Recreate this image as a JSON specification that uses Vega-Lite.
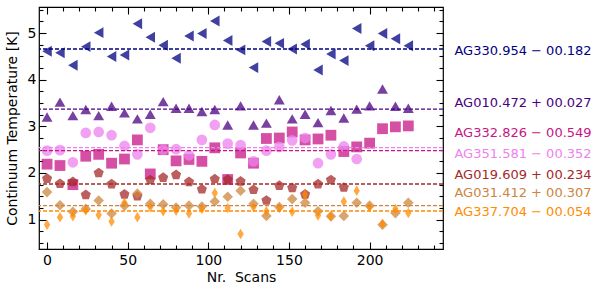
{
"$schema": "https://vega.github.io/schema/vega-lite/v6.json",
"width": 404, "height": 242,
"autosize": {"type": "none"},
"padding": {"left": 39, "top": 7, "right": 157, "bottom": 44},
"config": {"view": {"stroke": "#000000", "strokeWidth": 1.2}, "font": "DejaVu Sans",
  "axis": {"labelFont": "DejaVu Sans", "titleFont": "DejaVu Sans", "labelColor": "#000", "titleColor": "#000", "titleFontWeight": "normal", "domain": false, "tickColor": "#000000", "tickWidth": 1.1, "grid": false, "labelOverlap": false, "labelFlush": false, "labelBound": false}},
"datasets": {
"pts": [
{"k":1,"x":0,"t":4.61},{"k":1,"x":8,"t":4.58},{"k":1,"x":16,"t":4.31},{"k":1,"x":24,"t":4.71},{"k":1,"x":32,"t":5.01},{"k":1,"x":40,"t":4.50},{"k":1,"x":48,"t":4.53},{"k":1,"x":56,"t":5.20},{"k":1,"x":64,"t":4.91},{"k":1,"x":72,"t":4.74},{"k":1,"x":80,"t":4.46},{"k":1,"x":88,"t":4.94},{"k":1,"x":96,"t":4.99},{"k":1,"x":104,"t":5.26},{"k":1,"x":112,"t":4.84},{"k":1,"x":120,"t":4.64},{"k":1,"x":128,"t":4.26},{"k":1,"x":136,"t":4.82},{"k":1,"x":144,"t":4.78},{"k":1,"x":152,"t":4.66},{"k":1,"x":160,"t":4.76},{"k":1,"x":168,"t":4.21},{"k":1,"x":176,"t":4.55},{"k":1,"x":184,"t":4.41},{"k":1,"x":192,"t":5.10},{"k":1,"x":200,"t":4.73},{"k":1,"x":208,"t":4.99},{"k":1,"x":216,"t":4.88},{"k":1,"x":224,"t":4.73},
{"k":2,"x":0,"t":3.20},{"k":2,"x":8,"t":3.52},{"k":2,"x":16,"t":3.23},{"k":2,"x":24,"t":3.36},{"k":2,"x":32,"t":3.23},{"k":2,"x":40,"t":3.43},{"k":2,"x":48,"t":3.29},{"k":2,"x":56,"t":3.16},{"k":2,"x":64,"t":3.26},{"k":2,"x":72,"t":3.53},{"k":2,"x":80,"t":3.39},{"k":2,"x":88,"t":3.39},{"k":2,"x":96,"t":3.32},{"k":2,"x":104,"t":3.36},{"k":2,"x":112,"t":3.03},{"k":2,"x":120,"t":3.44},{"k":2,"x":128,"t":3.03},{"k":2,"x":136,"t":3.07},{"k":2,"x":144,"t":3.57},{"k":2,"x":152,"t":3.16},{"k":2,"x":160,"t":3.26},{"k":2,"x":168,"t":3.08},{"k":2,"x":176,"t":3.34},{"k":2,"x":184,"t":3.18},{"k":2,"x":192,"t":3.37},{"k":2,"x":200,"t":3.44},{"k":2,"x":208,"t":3.80},{"k":2,"x":216,"t":3.43},{"k":2,"x":224,"t":3.39},
{"k":3,"x":0,"t":2.19},{"k":3,"x":8,"t":2.16},{"k":3,"x":16,"t":1.75},{"k":3,"x":24,"t":2.36},{"k":3,"x":32,"t":2.40},{"k":3,"x":40,"t":2.21},{"k":3,"x":48,"t":2.30},{"k":3,"x":56,"t":2.71},{"k":3,"x":64,"t":1.98},{"k":3,"x":72,"t":2.50},{"k":3,"x":80,"t":2.26},{"k":3,"x":88,"t":2.29},{"k":3,"x":96,"t":2.25},{"k":3,"x":104,"t":2.54},{"k":3,"x":112,"t":1.86},{"k":3,"x":120,"t":2.43},{"k":3,"x":128,"t":2.21},{"k":3,"x":136,"t":2.74},{"k":3,"x":144,"t":2.75},{"k":3,"x":152,"t":2.88},{"k":3,"x":160,"t":2.71},{"k":3,"x":168,"t":2.73},{"k":3,"x":176,"t":2.81},{"k":3,"x":184,"t":2.46},{"k":3,"x":192,"t":2.56},{"k":3,"x":200,"t":2.64},{"k":3,"x":208,"t":2.95},{"k":3,"x":216,"t":2.99},{"k":3,"x":224,"t":3.01},
{"k":4,"x":0,"t":2.48},{"k":4,"x":8,"t":2.49},{"k":4,"x":16,"t":2.23},{"k":4,"x":24,"t":2.86},{"k":4,"x":32,"t":2.88},{"k":4,"x":40,"t":2.81},{"k":4,"x":48,"t":2.58},{"k":4,"x":56,"t":2.40},{"k":4,"x":64,"t":2.97},{"k":4,"x":72,"t":2.50},{"k":4,"x":80,"t":2.51},{"k":4,"x":88,"t":2.38},{"k":4,"x":96,"t":2.71},{"k":4,"x":104,"t":3.03},{"k":4,"x":112,"t":2.63},{"k":4,"x":120,"t":2.60},{"k":4,"x":128,"t":2.25},{"k":4,"x":136,"t":2.48},{"k":4,"x":144,"t":2.56},{"k":4,"x":152,"t":2.70},{"k":4,"x":160,"t":2.75},{"k":4,"x":168,"t":2.21},{"k":4,"x":176,"t":2.40},{"k":4,"x":184,"t":2.57},{"k":4,"x":192,"t":2.30},
{"k":5,"x":0,"t":1.88},{"k":5,"x":8,"t":1.77},{"k":5,"x":16,"t":1.81},{"k":5,"x":24,"t":1.53},{"k":5,"x":32,"t":2.00},{"k":5,"x":40,"t":1.76},{"k":5,"x":48,"t":1.54},{"k":5,"x":56,"t":1.50},{"k":5,"x":64,"t":1.85},{"k":5,"x":72,"t":1.90},{"k":5,"x":80,"t":1.96},{"k":5,"x":88,"t":1.81},{"k":5,"x":96,"t":1.65},{"k":5,"x":104,"t":1.87},{"k":5,"x":112,"t":1.86},{"k":5,"x":120,"t":1.82},{"k":5,"x":128,"t":1.64},{"k":5,"x":136,"t":1.41},{"k":5,"x":144,"t":1.73},{"k":5,"x":152,"t":1.68},{"k":5,"x":160,"t":1.54},{"k":5,"x":168,"t":1.76},{"k":5,"x":176,"t":1.85},{"k":5,"x":184,"t":1.69},
{"k":6,"x":0,"t":1.59},{"k":6,"x":8,"t":1.31},{"k":6,"x":16,"t":1.17},{"k":6,"x":24,"t":1.23},{"k":6,"x":32,"t":1.41},{"k":6,"x":40,"t":1.13},{"k":6,"x":48,"t":1.30},{"k":6,"x":56,"t":1.56},{"k":6,"x":64,"t":1.34},{"k":6,"x":72,"t":1.33},{"k":6,"x":80,"t":1.26},{"k":6,"x":88,"t":1.30},{"k":6,"x":96,"t":1.28},{"k":6,"x":104,"t":1.39},{"k":6,"x":112,"t":1.49},{"k":6,"x":120,"t":1.62},{"k":6,"x":128,"t":1.34},{"k":6,"x":136,"t":1.08},{"k":6,"x":144,"t":1.27},{"k":6,"x":152,"t":1.44},{"k":6,"x":160,"t":1.36},{"k":6,"x":168,"t":1.18},{"k":6,"x":176,"t":1.07},{"k":6,"x":184,"t":1.08},{"k":6,"x":192,"t":1.36},{"k":6,"x":200,"t":1.30},{"k":6,"x":208,"t":0.89},{"k":6,"x":216,"t":1.14},{"k":6,"x":224,"t":1.36},
{"k":7,"x":0,"t":0.89},{"k":7,"x":8,"t":1.05},{"k":7,"x":16,"t":1.07},{"k":7,"x":24,"t":1.20},{"k":7,"x":32,"t":1.10},{"k":7,"x":40,"t":0.96},{"k":7,"x":48,"t":1.36},{"k":7,"x":56,"t":1.05},{"k":7,"x":64,"t":1.27},{"k":7,"x":72,"t":1.18},{"k":7,"x":80,"t":1.19},{"k":7,"x":88,"t":1.13},{"k":7,"x":96,"t":1.23},{"k":7,"x":104,"t":1.57},{"k":7,"x":112,"t":1.25},{"k":7,"x":120,"t":0.69},{"k":7,"x":128,"t":1.27},{"k":7,"x":136,"t":1.18},{"k":7,"x":144,"t":1.25},{"k":7,"x":152,"t":1.17},{"k":7,"x":160,"t":1.54},{"k":7,"x":168,"t":1.09},{"k":7,"x":176,"t":1.07},{"k":7,"x":184,"t":1.39},{"k":7,"x":192,"t":1.62},{"k":7,"x":200,"t":1.27},{"k":7,"x":208,"t":0.91},{"k":7,"x":216,"t":1.23},{"k":7,"x":224,"t":1.14}
],
"means": [
{"k":1,"s":"AG330.954 − 00.182","m":4.66,"ly":4.625},
{"k":2,"s":"AG010.472 + 00.027","m":3.37,"ly":3.50},
{"k":3,"s":"AG332.826 − 00.549","m":2.48,"ly":2.857},
{"k":4,"s":"AG351.581 − 00.352","m":2.545,"ly":2.407},
{"k":5,"s":"AG019.609 + 00.234","m":1.765,"ly":1.949},
{"k":6,"s":"AG031.412 + 00.307","m":1.30,"ly":1.563},
{"k":7,"s":"AG337.704 − 00.054","m":1.185,"ly":1.171}
]
},
"resolve": {"axis": {"x": "independent", "y": "independent"}},
"layer": [
{"data": {"name": "pts"},
 "transform": [{"filter": "datum.k <= 3"}],
 "mark": {"type": "point", "filled": true, "opacity": 0.75, "strokeWidth": 0},
 "encoding": {
  "x": {"field": "x", "type": "quantitative", "scale": {"domain": [-5, 245.5], "nice": false, "zero": false},
    "axis": {"orient": "bottom", "values": [0,50,100,150,200], "format": "d", "tickSize": -7,
      "labelFontSize": 14, "labelPadding": 11, "title": "Nr.\u00a0 Scans", "titleFontSize": 14, "titlePadding": 3}},
  "y": {"field": "t", "type": "quantitative", "scale": {"domain": [0.37, 5.56], "nice": false, "zero": false},
    "axis": {"orient": "left", "values": [1,2,3,4,5], "format": "d", "tickSize": -7,
      "labelFontSize": 14, "labelPadding": 10, "title": "Continuum Temperature [K]", "titleFontSize": 14, "titlePadding": 8}},
  "color": {"field": "k", "type": "nominal", "scale": {"domain": [1,2,3,4,5,6,7], "range": ["#000080","#4B0082","#C71585","#EE82EE","#A52A2A","#CD853F","#FF8C00"]}, "legend": null},
  "shape": {"field": "k", "type": "nominal", "scale": {"domain": [1,2,3,4,5,6,7], "range": ["triangle-left","triangle-up","square","circle","M0,-1L0.951,-0.309L0.588,0.809L-0.588,0.809L-0.951,-0.309Z","diamond","M0,-1L0.6,0L0,1L-0.6,0Z"]}, "legend": null},
  "size": {"field": "k", "type": "nominal", "scale": {"domain": [1,2,3,4,5,6,7], "range": [120,110,95,115,105,135,125]}, "legend": null}
 }},
{"data": {"name": "pts"},
 "transform": [{"filter": "datum.k > 3"}],
 "mark": {"type": "point", "filled": true, "opacity": 0.75, "strokeWidth": 0},
 "encoding": {
  "x": {"field": "x", "type": "quantitative",
    "axis": {"orient": "bottom", "values": [10,20,30,40,60,70,80,90,110,120,130,140,160,170,180,190,210,220,230,240], "labels": false, "title": null, "tickSize": -4}},
  "y": {"field": "t", "type": "quantitative",
    "axis": {"orient": "left", "values": [0.5,0.75,1.25,1.5,1.75,2.25,2.5,2.75,3.25,3.5,3.75,4.25,4.5,4.75,5.25,5.5], "labels": false, "title": null, "tickSize": -4}},
  "color": {"field": "k", "type": "nominal", "legend": null},
  "shape": {"field": "k", "type": "nominal", "legend": null},
  "size": {"field": "k", "type": "nominal", "legend": null}
 }},
{"data": {"name": "means"},
 "mark": {"type": "rule", "strokeDash": [4, 2], "strokeWidth": 1.4},
 "encoding": {
  "y": {"field": "m", "type": "quantitative", "axis": null},
  "color": {"field": "k", "type": "nominal", "legend": null}
 }},
{"data": {"name": "means"},
 "transform": [{"filter": "datum.k <= 4"}],
 "mark": {"type": "text", "align": "left", "baseline": "middle", "fontSize": 13, "font": "DejaVu Sans"},
 "encoding": {
  "x": {"datum": 252.6, "type": "quantitative",
    "axis": {"orient": "top", "values": [0,50,100,150,200], "labels": false, "title": null, "tickSize": -7}},
  "y": {"field": "ly", "type": "quantitative",
    "axis": {"orient": "right", "values": [1,2,3,4,5], "labels": false, "title": null, "tickSize": -7}},
  "text": {"field": "s"},
  "color": {"field": "k", "type": "nominal", "legend": null}
 }},
{"data": {"name": "means"},
 "transform": [{"filter": "datum.k > 4"}],
 "mark": {"type": "text", "align": "left", "baseline": "middle", "fontSize": 13, "font": "DejaVu Sans"},
 "encoding": {
  "x": {"datum": 252.6, "type": "quantitative",
    "axis": {"orient": "top", "values": [10,20,30,40,60,70,80,90,110,120,130,140,160,170,180,190,210,220,230,240], "labels": false, "title": null, "tickSize": -4}},
  "y": {"field": "ly", "type": "quantitative",
    "axis": {"orient": "right", "values": [0.5,0.75,1.25,1.5,1.75,2.25,2.5,2.75,3.25,3.5,3.75,4.25,4.5,4.75,5.25,5.5], "labels": false, "title": null, "tickSize": -4}},
  "text": {"field": "s"},
  "color": {"field": "k", "type": "nominal", "legend": null}
 }}
]
}
